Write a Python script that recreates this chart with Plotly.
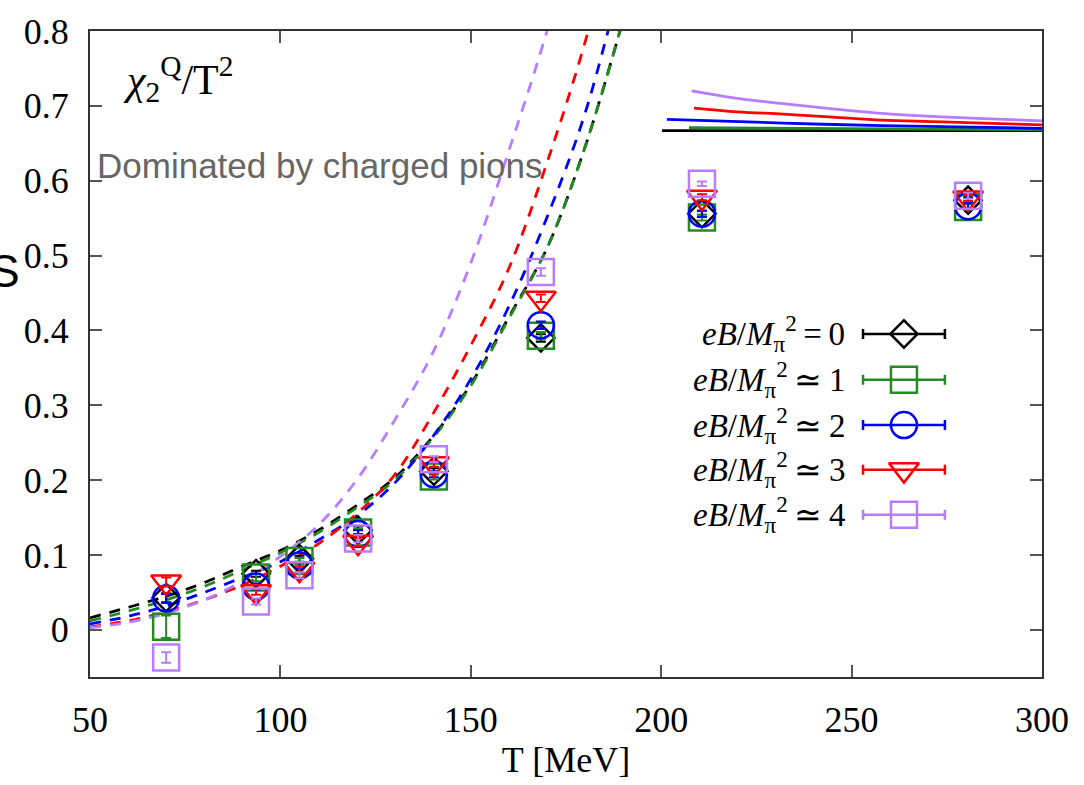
import plotly.graph_objects as go

# ---------------- data ----------------
T_data = [70, 93.6, 105, 120.4, 140.3, 168.4, 210.7, 280.6]

chi_b0 = [0.043, 0.075, 0.095, 0.133, 0.212, 0.390, 0.556, 0.574]
chi_b1 = [0.004, 0.070, 0.092, 0.130, 0.205, 0.393, 0.551, 0.565]
chi_b2 = [0.042, 0.058, 0.086, 0.128, 0.208, 0.407, 0.556, 0.566]
chi_b3 = [0.064, 0.051, 0.081, 0.117, 0.222, 0.443, 0.578, 0.577]
chi_b4 = [-0.037, 0.038, 0.073, 0.122, 0.228, 0.478, 0.596, 0.580]

err_b0 = [0.006, 0.004, 0.004, 0.005, 0.004, 0.005, 0.004, 0.004]
err_b1 = [0.015, 0.005, 0.004, 0.005, 0.004, 0.005, 0.004, 0.004]
err_b2 = [0.006, 0.004, 0.004, 0.005, 0.004, 0.005, 0.004, 0.004]
err_b3 = [0.006, 0.004, 0.004, 0.005, 0.004, 0.005, 0.004, 0.004]
err_b4 = [0.007, 0.004, 0.004, 0.005, 0.004, 0.005, 0.003, 0.004]

# HRG (dashed) curves
T_hrg = [50, 60, 70, 80, 90, 100, 110, 120, 130, 140, 150, 160, 170, 180, 190]
hrg_b0 = [0.016, 0.030, 0.045, 0.063, 0.085, 0.106, 0.133, 0.166, 0.203, 0.258, 0.328, 0.418, 0.510, 0.645, 0.815]
hrg_b1 = [0.012, 0.025, 0.040, 0.058, 0.080, 0.103, 0.130, 0.163, 0.200, 0.256, 0.326, 0.416, 0.510, 0.645, 0.815]
hrg_b2 = [0.008, 0.018, 0.032, 0.050, 0.070, 0.091, 0.120, 0.152, 0.196, 0.258, 0.335, 0.432, 0.551, 0.690, 0.880]
hrg_b3 = [0.004, 0.012, 0.024, 0.040, 0.060, 0.085, 0.115, 0.155, 0.207, 0.288, 0.380, 0.483, 0.624, 0.785, 0.980]
hrg_b4 = [0.003, 0.010, 0.022, 0.040, 0.065, 0.098, 0.140, 0.200, 0.280, 0.370, 0.490, 0.640, 0.800, 0.990, 1.200]

# high-temperature (solid) curves
T_sb0 = [200.2, 300]
sb_b0 = [0.667, 0.667]
T_sb1 = [207.3, 300]
sb_b1 = [0.671, 0.668]
T_sb2 = [201.5, 232, 258, 300]
sb_b2 = [0.682, 0.677, 0.6735, 0.670]
T_sb3 = [208.6, 220, 232, 245, 258, 271, 284.5, 300]
sb_b3 = [0.697, 0.692, 0.689, 0.685, 0.681, 0.679, 0.677, 0.6745]
T_sb4 = [208, 220, 232, 245, 258, 271, 284.5, 300]
sb_b4 = [0.720, 0.710, 0.703, 0.696, 0.690, 0.686, 0.683, 0.680]

labels = ["<i>eB</i>/<i>M</i><sub>π</sub><sup>2</sup>\u2009=\u20090",
          "<i>eB</i>/<i>M</i><sub>π</sub><sup>2</sup>\u2009≃\u20091",
          "<i>eB</i>/<i>M</i><sub>π</sub><sup>2</sup>\u2009≃\u20092",
          "<i>eB</i>/<i>M</i><sub>π</sub><sup>2</sup>\u2009≃\u20093",
          "<i>eB</i>/<i>M</i><sub>π</sub><sup>2</sup>\u2009≃\u20094"]

x_ticks = [50, 100, 150, 200, 250, 300]
y_ticks = [0, 0.1, 0.2, 0.3, 0.4, 0.5, 0.6, 0.7, 0.8]
y_ticktext = ["0", "0.1", "0.2", "0.3", "0.4", "0.5", "0.6", "0.7", "0.8"]

# ---------------- styles ----------------
SERIF = "Liberation Serif, Times New Roman, serif"
colors = ["#000000", "#228B22", "#0000FF", "#FF0000", "#B77CFF"]
symbols = ["diamond-open", "square-open", "circle-open", "triangle-down-open", "square-open"]
sizes = [21, 26, 26, 26, 26]

chis = [chi_b0, chi_b1, chi_b2, chi_b3, chi_b4]
errs = [err_b0, err_b1, err_b2, err_b3, err_b4]
hrgs = [hrg_b0, hrg_b1, hrg_b2, hrg_b3, hrg_b4]
sbT = [T_sb0, T_sb1, T_sb2, T_sb3, T_sb4]
sbs = [sb_b0, sb_b1, sb_b2, sb_b3, sb_b4]

fig = go.Figure()

# dashed HRG curves
for i in range(5):
    fig.add_trace(go.Scatter(
        x=T_hrg, y=hrgs[i], mode="lines", line_shape="spline",
        line=dict(color=colors[i], width=2.8, dash="11px,9px"),
        showlegend=False, hoverinfo="skip"))

# solid high-T curves
for i in range(5):
    fig.add_trace(go.Scatter(
        x=sbT[i], y=sbs[i], mode="lines", line_shape="spline",
        line=dict(color=colors[i], width=2.8),
        showlegend=False, hoverinfo="skip"))

# lattice data
for i in range(5):
    fig.add_trace(go.Scatter(
        x=T_data, y=chis[i], mode="markers",
        marker=dict(symbol=symbols[i], size=sizes[i], color=colors[i],
                    line=dict(color=colors[i], width=2.5)),
        error_y=dict(type="data", array=errs[i], color=colors[i],
                     thickness=2, width=5),
        showlegend=False))

# custom gnuplot-style legend (glyph to the right of text)
leg_x = 0.855
leg_half = 0.043
leg_rows = [0.531, 0.460, 0.390, 0.321, 0.251]
for i in range(5):
    fig.add_trace(go.Scatter(
        x=[leg_x], y=[leg_rows[i]], xaxis="x2", yaxis="y2", mode="markers",
        marker=dict(symbol=symbols[i], size=sizes[i], color=colors[i],
                    line=dict(color=colors[i], width=2.5)),
        error_x=dict(type="constant", value=leg_half, color=colors[i],
                     thickness=2.5, width=5),
        showlegend=False, hoverinfo="skip"))

annotations = []
for i in range(5):
    annotations.append(dict(
        x=0.795, y=leg_rows[i], xref="paper", yref="paper",
        xanchor="right", yanchor="middle", showarrow=False,
        text=labels[i], font=dict(family=SERIF, size=33, color="black")))

annotations.append(dict(
    x=0.033, y=0.925, xref="paper", yref="paper", xanchor="left", yanchor="middle",
    showarrow=False, text="<i>χ</i><sub>2</sub><sup>Q</sup>/T<sup>2</sup>",
    font=dict(family=SERIF, size=42, color="black")))

annotations.append(dict(
    x=0.005, y=0.792, xref="paper", yref="paper", xanchor="left", yanchor="middle",
    showarrow=False, text="Dominated by charged pions",
    font=dict(family="Liberation Sans, Arial, sans-serif", size=35, color="#666666")))

annotations.append(dict(
    x=-0.0714, y=0.628, xref="paper", yref="paper", xanchor="right", yanchor="middle",
    showarrow=False, text="S",
    font=dict(family="Liberation Sans, Arial, sans-serif", size=46, color="black")))

axis_common = dict(
    showgrid=False, zeroline=False, showline=True, linecolor="#333333", linewidth=2,
    mirror="ticks", ticks="inside", ticklen=12, tickwidth=1.5, tickcolor="#555555")

fig.update_layout(
    width=1084, height=785,
    font=dict(family=SERIF, size=36, color="black"),
    margin=dict(l=90, r=42, t=22, b=102),
    paper_bgcolor="white", plot_bgcolor="white",
    showlegend=False,
    annotations=annotations,
    xaxis=dict(range=[50, 300], tickvals=x_ticks, ticktext=[str(v) for v in x_ticks],
               tickfont=dict(family=SERIF, size=36, color="black"),
               ticklabelstandoff=10,
               title=dict(text="T [MeV]", standoff=8,
                          font=dict(family=SERIF, size=36, color="black")),
               **axis_common),
    yaxis=dict(range=[-0.063, 0.8], tickvals=y_ticks, ticktext=y_ticktext,
               tickfont=dict(family=SERIF, size=36, color="black"),
               ticklabelstandoff=12, **axis_common),
    xaxis2=dict(range=[0, 1], overlaying="x", anchor="y2", visible=False),
    yaxis2=dict(range=[0, 1], overlaying="y", anchor="x2", visible=False),
)

fig.write_html("out.html")
